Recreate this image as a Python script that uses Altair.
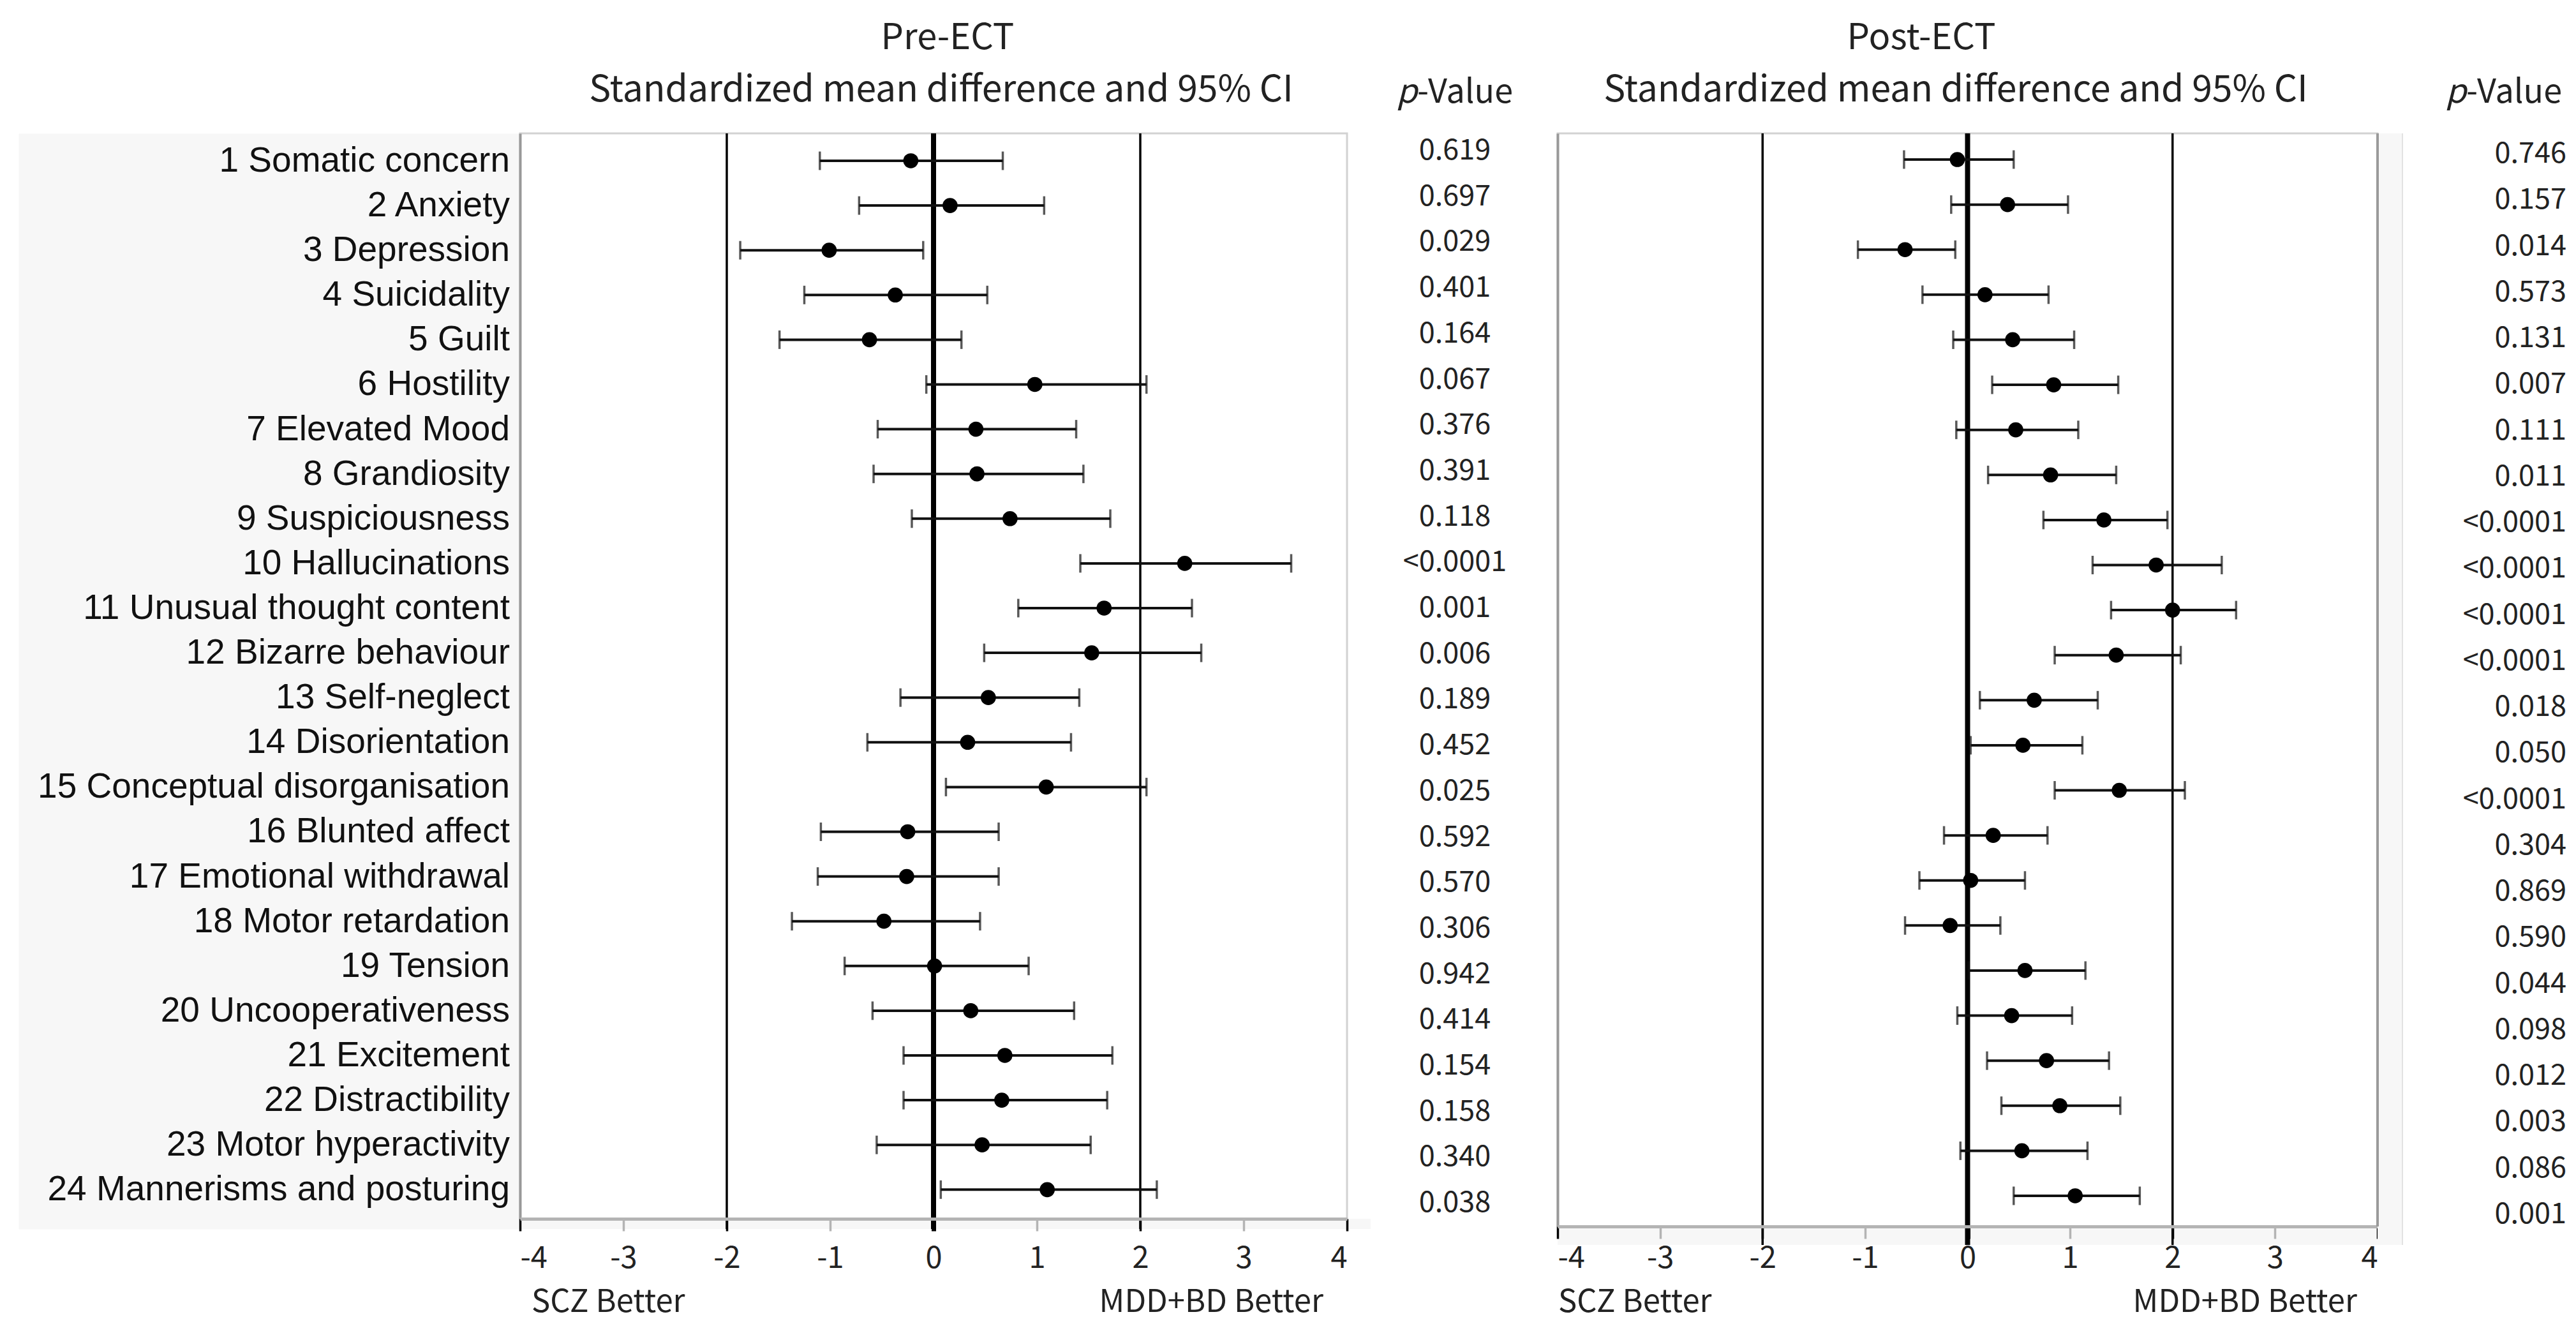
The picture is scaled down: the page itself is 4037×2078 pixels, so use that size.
import altair as alt
import pandas as pd

# ---------------- data ----------------
items = [
    "1 Somatic concern", "2 Anxiety", "3 Depression", "4 Suicidality", "5 Guilt",
    "6 Hostility", "7 Elevated Mood", "8 Grandiosity", "9 Suspiciousness",
    "10 Hallucinations", "11 Unusual thought content", "12 Bizarre behaviour",
    "13 Self-neglect", "14 Disorientation", "15 Conceptual disorganisation",
    "16 Blunted affect", "17 Emotional withdrawal", "18 Motor retardation",
    "19 Tension", "20 Uncooperativeness", "21 Excitement", "22 Distractibility",
    "23 Motor hyperactivity", "24 Mannerisms and posturing",
]

pre_smd = [-0.22, 0.16, -1.01, -0.37, -0.62, 0.98, 0.41, 0.42, 0.74, 2.43, 1.65, 1.53,
           0.53, 0.33, 1.09, -0.25, -0.26, -0.48, 0.01, 0.36, 0.69, 0.66, 0.47, 1.10]
pre_lo = [-1.10, -0.72, -1.87, -1.25, -1.49, -0.07, -0.54, -0.58, -0.21, 1.42, 0.82, 0.49,
          -0.32, -0.64, 0.12, -1.09, -1.12, -1.37, -0.86, -0.59, -0.29, -0.29, -0.55, 0.07]
pre_hi = [0.67, 1.07, -0.10, 0.52, 0.27, 2.06, 1.38, 1.45, 1.71, 3.46, 2.50, 2.59,
          1.41, 1.33, 2.06, 0.63, 0.63, 0.45, 0.92, 1.36, 1.73, 1.68, 1.52, 2.16]
pre_p = ["0.619", "0.697", "0.029", "0.401", "0.164", "0.067", "0.376", "0.391", "0.118",
         "<0.0001", "0.001", "0.006", "0.189", "0.452", "0.025", "0.592", "0.570", "0.306",
         "0.942", "0.414", "0.154", "0.158", "0.340", "0.038"]

post_smd = [-0.10, 0.39, -0.61, 0.17, 0.44, 0.84, 0.47, 0.81, 1.33, 1.84, 2.00, 1.45,
            0.65, 0.54, 1.48, 0.25, 0.03, -0.17, 0.56, 0.43, 0.77, 0.90, 0.53, 1.05]
post_lo = [-0.62, -0.16, -1.07, -0.44, -0.14, 0.24, -0.11, 0.20, 0.74, 1.22, 1.40, 0.85,
           0.12, 0.03, 0.85, -0.23, -0.47, -0.61, 0.01, -0.10, 0.19, 0.33, -0.07, 0.45]
post_hi = [0.45, 0.98, -0.12, 0.79, 1.04, 1.47, 1.08, 1.45, 1.95, 2.48, 2.62, 2.08,
           1.27, 1.12, 2.12, 0.78, 0.56, 0.32, 1.15, 1.02, 1.38, 1.49, 1.17, 1.68]
post_p = ["0.746", "0.157", "0.014", "0.573", "0.131", "0.007", "0.111", "0.011", "<0.0001",
          "<0.0001", "<0.0001", "<0.0001", "0.018", "0.050", "<0.0001", "0.304", "0.869",
          "0.590", "0.044", "0.098", "0.012", "0.003", "0.086", "0.001"]

panel_titles = ["Pre-ECT", "Post-ECT"]
subtitle = "Standardized mean difference and 95% CI"
x_ticks = [-4, -3, -2, -1, 0, 1, 2, 3, 4]
ref_lines = [-2, 0, 2]
favour_labels = ["SCZ Better", "MDD+BD Better"]

# ---------------- styling ----------------
FONT_NUM = "Noto Sans CJK JP"
FONT_LAB = "Liberation Sans"
GRAY_BG = "#f7f7f7"
TXT = "#222222"

n = len(items)
rows = pd.DataFrame({
    "row": list(range(1, n + 1)), "item": items,
    "pre_smd": pre_smd, "pre_lo": pre_lo, "pre_hi": pre_hi, "pre_p": pre_p,
    "post_smd": post_smd, "post_lo": post_lo, "post_hi": post_hi, "post_p": post_p,
})
one = pd.DataFrame({"k": [0]})
ref_df = pd.DataFrame({"x": ref_lines, "w": [3.5 if v != 0 else 8 for v in ref_lines]})

# ---------------- label column ----------------
LAB_W, LAB_H = 786, 1717
label_chart = alt.Chart(rows).mark_text(
    align="right", baseline="middle", font=FONT_LAB, fontSize=55, color="#111111"
).encode(
    x=alt.value(770),
    y=alt.Y("row:Q", axis=None,
            scale=alt.Scale(domain=[0.387, 0.387 + LAB_H / 70.1], reverse=True, nice=False, zero=False)),
    text="item:N",
).properties(width=LAB_W, height=LAB_H,
             view=alt.ViewBackground(fill=GRAY_BG, stroke="transparent"))


def text_layer(txt, x, y, size, align="center", style="normal"):
    return alt.Chart(pd.DataFrame({"t": [txt]})).mark_text(
        font=FONT_NUM, fontSize=size, fontStyle=style, color=TXT, baseline="middle", align=align
    ).encode(text="t:N", x=alt.value(x), y=alt.value(y))


def panel(prefix, title, W, H, ydom, strip_h, strip_w, title_x, sub_x, fav_left_x, fav_right_x, lab_pad):
    xs = alt.Scale(domain=[-4, 4], nice=False, zero=False)
    ys = alt.Scale(domain=ydom, reverse=True, nice=False, zero=False)
    xaxis = alt.Axis(
        values=x_ticks, title=None, grid=False, domainColor="#b4b4b4", domainWidth=5,
        tickSize=19,
        tickColor={"condition": {"test": "datum.value % 2 === 0", "value": "#000000"}, "value": "#b4b4b4"},
        tickWidth={"condition": {"test": "datum.value === 0", "value": 7}, "value": 3.5},
        labelFont=FONT_NUM, labelFontSize=47, labelColor=TXT, labelPadding=lab_pad,
        labelExpr="'' + datum.value", zindex=1,
    )
    yaxis = alt.Axis(labels=False, ticks=False, title=None, grid=False,
                     domainColor="#999999", domainWidth=4)

    strip = alt.Chart(one).mark_rect(color=GRAY_BG).encode(
        x=alt.value(0), x2=alt.value(strip_w), y=alt.value(H), y2=alt.value(H + strip_h))

    refs = alt.Chart(ref_df).mark_rule(color="#000000").encode(
        x=alt.X("x:Q", scale=xs, axis=xaxis),
        y=alt.value(0), y2=alt.value(H + strip_h),
        strokeWidth=alt.StrokeWidth("w:Q", scale=None, legend=None),
    )
    base = alt.Chart(rows)
    bars = base.mark_rule(color="#111111", strokeWidth=4).encode(
        x=alt.X(f"{prefix}_lo:Q", scale=xs, axis=xaxis), x2=f"{prefix}_hi:Q",
        y=alt.Y("row:Q", scale=ys, axis=yaxis),
    )
    cap_lo = base.mark_tick(orient="vertical", size=29, thickness=3.5, color="#111111").encode(
        x=alt.X(f"{prefix}_lo:Q", scale=xs, axis=xaxis), y=alt.Y("row:Q", scale=ys, axis=yaxis))
    cap_hi = base.mark_tick(orient="vertical", size=29, thickness=3.5, color="#111111").encode(
        x=alt.X(f"{prefix}_hi:Q", scale=xs, axis=xaxis), y=alt.Y("row:Q", scale=ys, axis=yaxis))
    pts = base.mark_circle(size=560, color="#000000", opacity=1).encode(
        x=alt.X(f"{prefix}_smd:Q", scale=xs, axis=xaxis), y=alt.Y("row:Q", scale=ys, axis=yaxis))

    t1 = text_layer(title, title_x, -149, 56)
    t2 = text_layer(subtitle, sub_x, -67, 57)
    f1 = text_layer(favour_labels[0], fav_left_x, 1832, 49, align="left")
    f2 = text_layer(favour_labels[1], fav_right_x, 1832, 49, align="right")

    return alt.layer(strip, refs, bars, cap_lo, cap_hi, pts, t1, t2, f1, f2).properties(
        width=W, height=H,
        view=alt.ViewBackground(fill="white", stroke="#d2d2d2", strokeWidth=3),
    )


def pcol(field, W, H, ydom, x, align, head_split, frame=False, frame_h=0):
    ys = alt.Scale(domain=ydom, reverse=True, nice=False, zero=False)
    layers = []
    if frame:
        layers.append(alt.Chart(one).mark_rect(color=GRAY_BG).encode(
            x=alt.value(0), x2=alt.value(39), y=alt.value(0), y2=alt.value(frame_h)))
        layers.append(alt.Chart(one).mark_rule(color="#e2e2e2", strokeWidth=2).encode(
            x=alt.value(39), y=alt.value(0), y2=alt.value(frame_h)))
        layers.append(alt.Chart(one).mark_rule(color="#9a9a9a", strokeWidth=4).encode(
            x=alt.value(0), y=alt.value(0), y2=alt.value(H)))
    layers.append(alt.Chart(rows).mark_text(
        font=FONT_NUM, fontSize=45, color=TXT, baseline="middle", align=align
    ).encode(x=alt.value(x), y=alt.Y("row:Q", scale=ys, axis=None), text=f"{field}:N"))
    layers.append(text_layer("p", head_split, -64, 52, align="right", style="italic"))
    layers.append(text_layer("-Value", head_split, -64, 52, align="left"))
    return alt.layer(*layers).properties(
        width=W, height=H, view=alt.ViewBackground(fill="transparent", stroke="transparent"))


H1, H2 = 1701, 1713
left_panel = panel("pre", panel_titles[0], 1296, H1, [0.387, 24.652], 16, 1333,
                   670, 660, 18, 1259, 20)
left_p = pcol("pre_p", 330, H1, [0.6234, 24.347], 169, "center", 110)
right_panel = panel("post", panel_titles[1], 1285, H2, [0.419, 24.68], 29, 1285,
                    570, 624, 1, 1253, 8)
right_p = pcol("post_p", 296, H2, [0.557, 24.263], 296, "right", 139, frame=True, frame_h=H2 + 29)

chart = alt.hconcat(
    label_chart, left_panel, left_p, right_panel, right_p, spacing=0, bounds="flush"
).properties(
    padding={"left": 20, "top": 22, "right": 0, "bottom": 4},
    background="white",
)

chart.save("out.html", embed_options={"renderer": "svg", "actions": False})
